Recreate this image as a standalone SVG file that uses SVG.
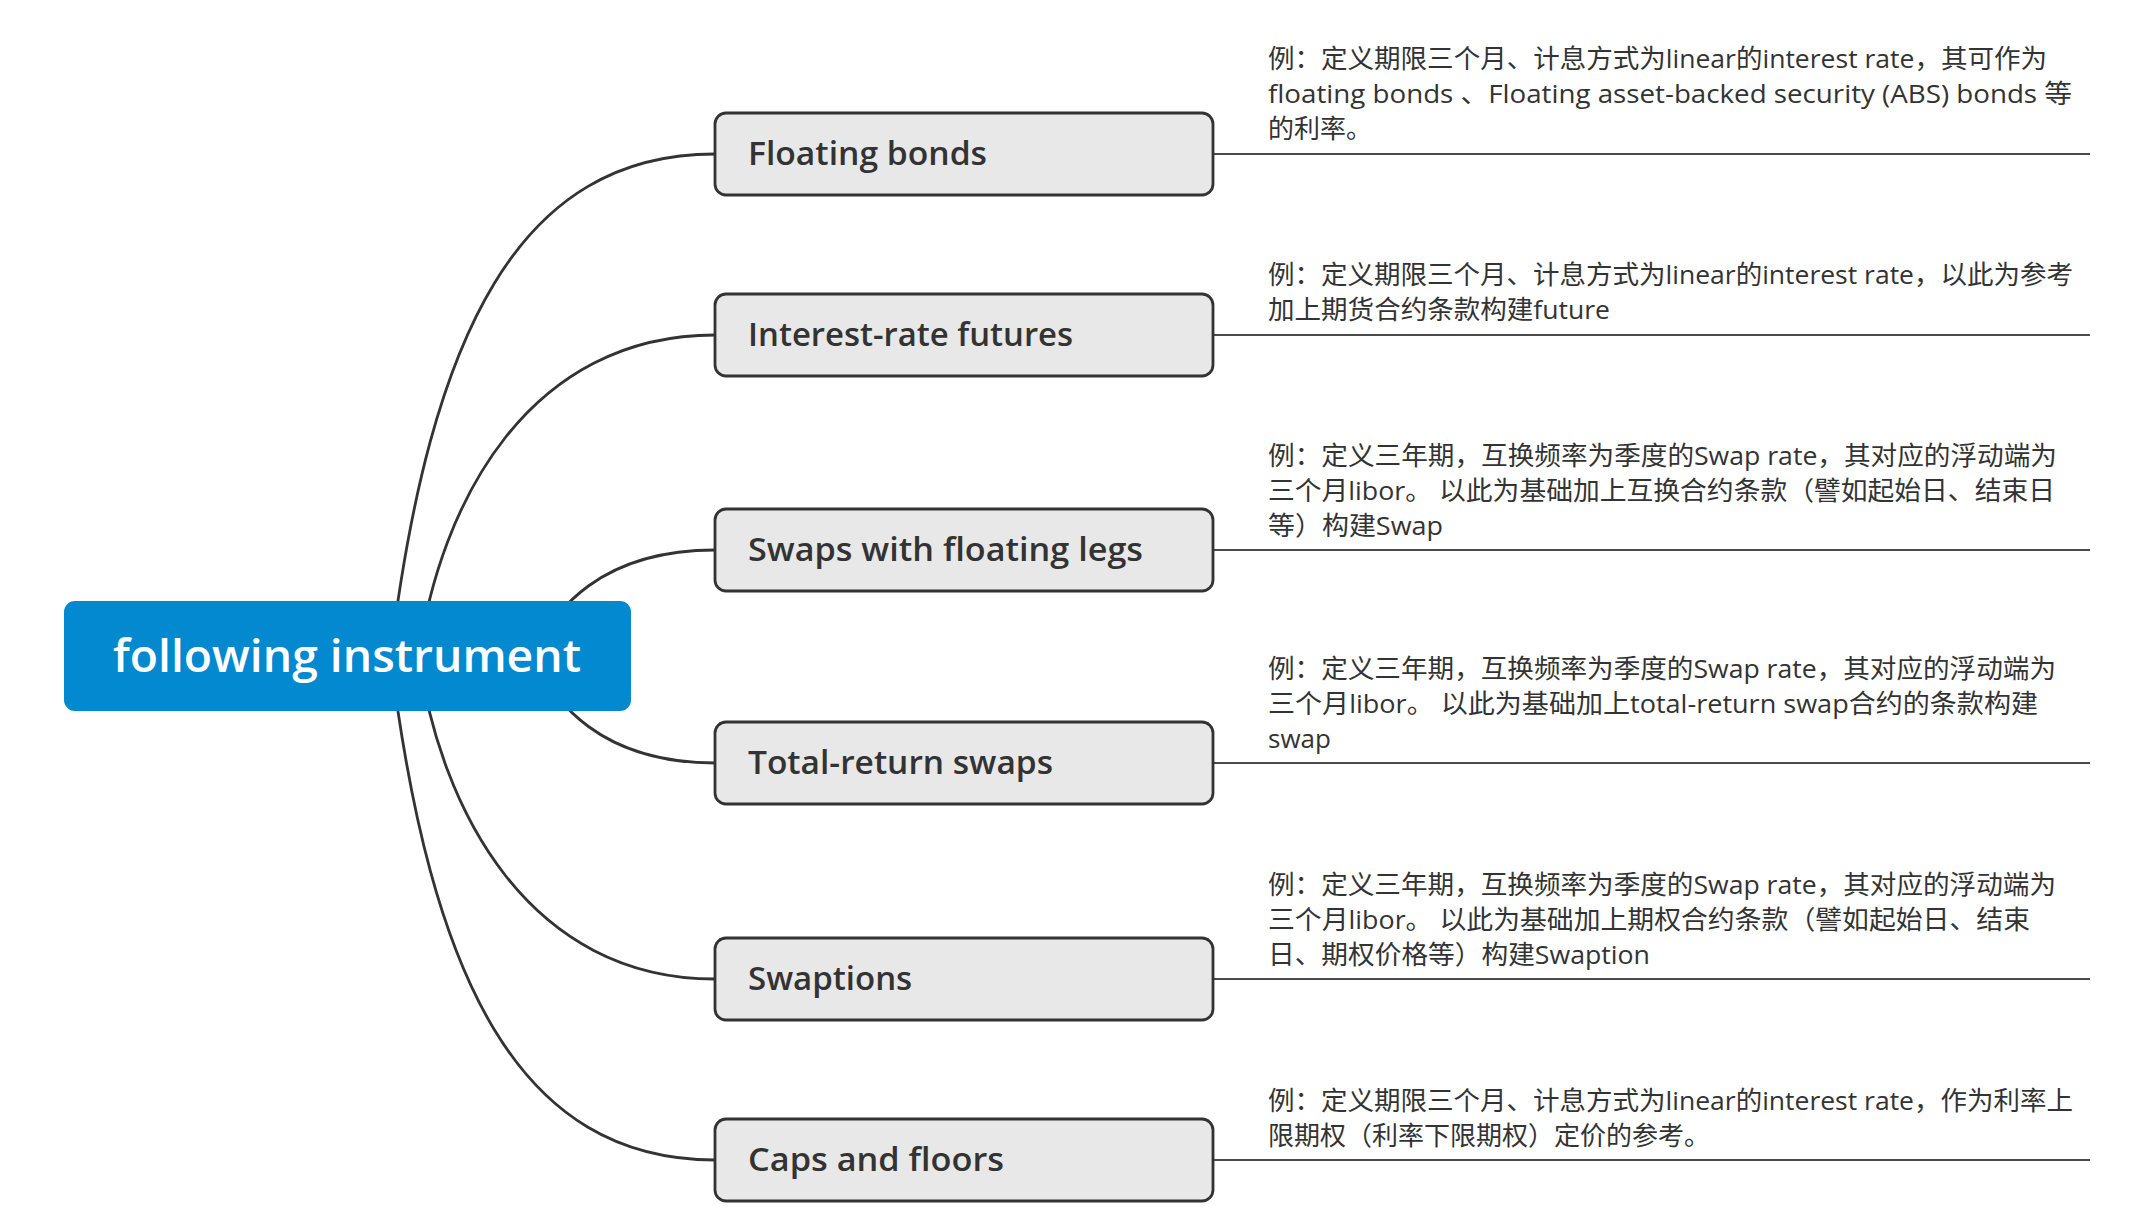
<svg xmlns="http://www.w3.org/2000/svg" width="2156" height="1220" viewBox="0 0 2156 1220">
<style>
.conn{fill:none;stroke:#333;stroke-width:2.8;stroke-linecap:round}
.uline{fill:none;stroke:#4a4a4a;stroke-width:2}
.box{fill:#E8E8E8;stroke:#333;stroke-width:2.8}
.lbl{font-family:"Open Sans","Noto Sans",sans-serif;font-weight:600;font-size:33px;fill:#333}
.note{font-family:"Open Sans","Noto Sans CJK SC",sans-serif;font-size:26px;fill:#333}
.root{fill:#0389D0}
.rootlbl{font-family:"Open Sans","Noto Sans",sans-serif;font-weight:600;font-size:46px;fill:#fff}
</style>
<rect width="2156" height="1220" fill="#fff"/>
<g id="connectors">
<path class="conn" d="M390,660 C430,330 520,154 715,154"/>
<path class="conn" d="M418,660 C440,500 530,335 715,335"/>
<path class="conn" d="M530,656 C555,610 600,550 715,550"/>
<path class="conn" d="M530,656 C555,702 600,763 715,763"/>
<path class="conn" d="M418,652 C440,812 530,979 715,979"/>
<path class="conn" d="M390,652 C430,982 520,1160 715,1160"/>
<line class="uline" x1="1213" y1="154" x2="2090" y2="154"/>
<line class="uline" x1="1213" y1="335" x2="2090" y2="335"/>
<line class="uline" x1="1213" y1="550" x2="2090" y2="550"/>
<line class="uline" x1="1213" y1="763" x2="2090" y2="763"/>
<line class="uline" x1="1213" y1="979" x2="2090" y2="979"/>
<line class="uline" x1="1213" y1="1160" x2="2090" y2="1160"/>
</g>
<g id="root">
<rect class="root" x="64" y="601" width="567" height="110" rx="11"/>
<text class="rootlbl" x="347" y="672" text-anchor="middle" textLength="468" lengthAdjust="spacingAndGlyphs">following instrument</text>
</g>
<g id="n1">
<rect class="box" x="715" y="113" width="498" height="82" rx="11"/>
<text class="lbl" x="748" y="165" textLength="239" lengthAdjust="spacingAndGlyphs">Floating bonds</text>
</g>
<g id="n2">
<rect class="box" x="715" y="294" width="498" height="82" rx="11"/>
<text class="lbl" x="748" y="346" textLength="325" lengthAdjust="spacingAndGlyphs">Interest-rate futures</text>
</g>
<g id="n3">
<rect class="box" x="715" y="509" width="498" height="82" rx="11"/>
<text class="lbl" x="748" y="561" textLength="395" lengthAdjust="spacingAndGlyphs">Swaps with floating legs</text>
</g>
<g id="n4">
<rect class="box" x="715" y="722" width="498" height="82" rx="11"/>
<text class="lbl" x="748" y="774" textLength="305" lengthAdjust="spacingAndGlyphs">Total-return swaps</text>
</g>
<g id="n5">
<rect class="box" x="715" y="938" width="498" height="82" rx="11"/>
<text class="lbl" x="748" y="990">Swaptions</text>
</g>
<g id="n6">
<rect class="box" x="715" y="1119" width="498" height="82" rx="11"/>
<text class="lbl" x="748" y="1171" textLength="256" lengthAdjust="spacingAndGlyphs">Caps and floors</text>
</g>
<g id="note1" class="note">
<text x="1268" y="68" textLength="779" lengthAdjust="spacingAndGlyphs">例：定义期限三个月、计息方式为linear的interest rate，其可作为</text>
<text x="1268" y="103" textLength="804" lengthAdjust="spacingAndGlyphs">floating bonds 、Floating asset-backed security (ABS) bonds 等</text>
<text x="1268" y="138">的利率。</text>
</g>
<g id="note2" class="note">
<text x="1268" y="284" textLength="805" lengthAdjust="spacingAndGlyphs">例：定义期限三个月、计息方式为linear的interest rate，以此为参考</text>
<text x="1268" y="319" textLength="342" lengthAdjust="spacingAndGlyphs">加上期货合约条款构建future</text>
</g>
<g id="note3" class="note">
<text x="1268" y="465" textLength="789" lengthAdjust="spacingAndGlyphs">例：定义三年期，互换频率为季度的Swap rate，其对应的浮动端为</text>
<text x="1268" y="500" textLength="787" lengthAdjust="spacingAndGlyphs">三个月libor。 以此为基础加上互换合约条款（譬如起始日、结束日</text>
<text x="1268" y="535" textLength="175" lengthAdjust="spacingAndGlyphs">等）构建Swap</text>
</g>
<g id="note4" class="note">
<text x="1268" y="678" textLength="788" lengthAdjust="spacingAndGlyphs">例：定义三年期，互换频率为季度的Swap rate，其对应的浮动端为</text>
<text x="1268" y="713" textLength="770" lengthAdjust="spacingAndGlyphs">三个月libor。 以此为基础加上total-return swap合约的条款构建</text>
<text x="1268" y="748">swap</text>
</g>
<g id="note5" class="note">
<text x="1268" y="894" textLength="788" lengthAdjust="spacingAndGlyphs">例：定义三年期，互换频率为季度的Swap rate，其对应的浮动端为</text>
<text x="1268" y="929" textLength="762" lengthAdjust="spacingAndGlyphs">三个月libor。 以此为基础加上期权合约条款（譬如起始日、结束</text>
<text x="1268" y="964" textLength="382" lengthAdjust="spacingAndGlyphs">日、期权价格等）构建Swaption</text>
</g>
<g id="note6" class="note">
<text x="1268" y="1110" textLength="805" lengthAdjust="spacingAndGlyphs">例：定义期限三个月、计息方式为linear的interest rate，作为利率上</text>
<text x="1268" y="1145">限期权（利率下限期权）定价的参考。</text>
</g>
</svg>
